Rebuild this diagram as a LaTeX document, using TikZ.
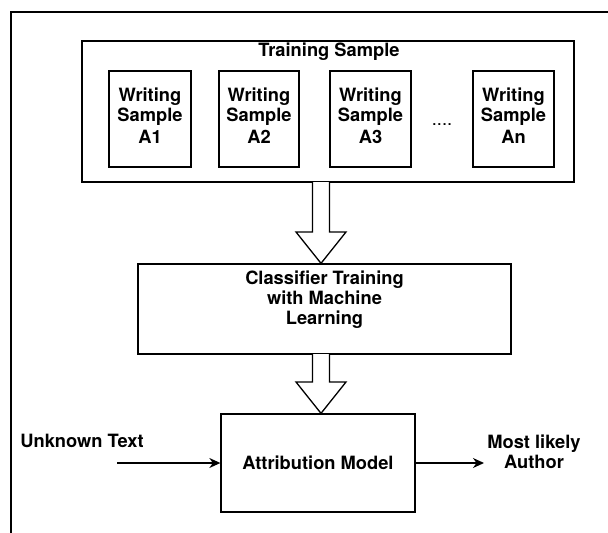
\documentclass[tikz,border=0pt]{standalone}
\usepackage{fontspec}
\setmainfont{TeX Gyre Heros}
\usetikzlibrary{arrows.meta, calc}
\begin{document}
\begin{tikzpicture}[x = 1pt, y = -1pt, line width = 1.3pt,
    box/.style = {draw, line width = 1.3pt, inner sep = 0pt, align = center,
                  font = \fontsize{18.3}{19.5}\selectfont\bfseries},
    lbl/.style = {inner sep = 0pt, align = center,
                  font = \fontsize{18.3}{20}\selectfont\bfseries},
    hollow/.style = {draw, line width = 1.3pt, fill = white, line join = miter},
    flow/.style = {-{Stealth[length = 11pt, width = 10pt, inset = 3.5pt]}, line width = 1.3pt}]
  \useasboundingbox (0, 0) rectangle (608, 533);
  % frame, only top and left show
  \draw (11, 533) -- (11, 12) -- (608, 12);

  \node[box, minimum width = 492, minimum height = 141] (train) at (328, 111.5) {};
  \node[lbl] (traintitle) at (329, 52) {Training Sample};
  \node[box, minimum width = 82, minimum height = 96] (wa1) at (150, 119)
       {\raisebox{3pt}{\begin{tabular}{@{}c@{}}Writing\\Sample\\[3pt]A1\end{tabular}}};
  \node[box, minimum width = 80, minimum height = 96] (wa2) at (259, 119)
       {\raisebox{3pt}{\begin{tabular}{@{}c@{}}Writing\\Sample\\[3pt]A2\end{tabular}}};
  \node[box, minimum width = 81, minimum height = 96] (wa3) at (370.5, 119)
       {\raisebox{3pt}{\begin{tabular}{@{}c@{}}Writing\\Sample\\[3pt]A3\end{tabular}}};
  \node[lbl, font = \fontsize{18.3}{21}\selectfont] (dots) at (442, 125) {....};
  \node[box, minimum width = 81, minimum height = 96] (wan) at (513.5, 119)
       {\raisebox{3pt}{\begin{tabular}{@{}c@{}}Writing\\Sample\\[3pt]An\end{tabular}}};

  \node[box, minimum width = 373, minimum height = 90] (cls) at (324.5, 309) {};
  \node[lbl] (clstext) at (324.5, 300) {Classifier Training\\with Machine\\Learning};

  \node[box, minimum width = 194, minimum height = 98] (attr) at (318, 463)
       {Attribution Model};

  % hollow arrows between the stages
  \coordinate (base1) at (321, 182);
  \coordinate (base2) at (321, 354);
  \draw[hollow] ($(base1) + (-8.5, 0)$) -- ($(base1) + (-8.5, 50)$) -- ($(base1) + (-25, 50)$)
    -- (base1 |- cls.north) -- ($(base1) + (25, 50)$) -- ($(base1) + (8.5, 50)$)
    -- ($(base1) + (8.5, 0)$);
  \draw[hollow] ($(base2) + (-8.5, 0)$) -- ($(base2) + (-8.5, 28)$) -- ($(base2) + (-25, 28)$)
    -- (base2 |- attr.north) -- ($(base2) + (25, 28)$) -- ($(base2) + (8.5, 28)$)
    -- ($(base2) + (8.5, 0)$);

  % input and output
  \node[lbl] (unk) at (82, 441) {Unknown Text};
  \coordinate (unkin) at (117, 463);
  \draw[flow] (unkin) -- (attr.west);
  \coordinate (outend) at (484, 463);
  \draw[flow] (attr.east) -- (outend);
  \node[lbl] (author) at (534, 452) {Most likely\\Author};
\end{tikzpicture}
\end{document}
